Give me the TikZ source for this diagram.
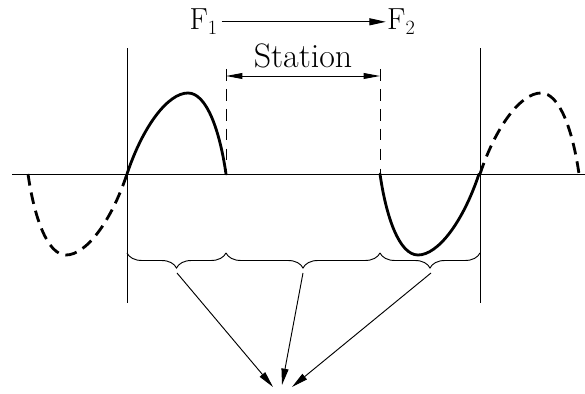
\documentclass[tikz,border=0pt]{standalone}
\usepackage{tikz}
\usetikzlibrary{arrows.meta,decorations.pathreplacing}

% one half-wave, from (0,0) to (99,0)
\newcommand{\humppath}{(0,0) .. controls (16,48) and (41,81) .. (61,81) .. controls (80,81) and (93,42) .. (99,0)}
\newcommand{\dippath}{(0,0) .. controls (6,-42) and (19,-81) .. (38,-81) .. controls (58,-81) and (83,-48) .. (99,0)}

\begin{document}
\begin{tikzpicture}[x=0.03cm, y=0.03cm,
  wave/.style={line width=2.4pt, line cap=round},
  ghost/.style={wave, line cap=butt, dash pattern=on 10pt off 6pt},
  guide/.style={line width=0.8pt, dash pattern=on 10pt off 7pt},
  thinline/.style={line width=0.8pt},
  tip/.style={-{Triangle[length=14pt,width=6pt]}, line width=0.8pt},
  label/.style={inner sep=0pt, font=\fontsize{26}{30}\selectfont}]

  \useasboundingbox (0,0) rectangle (585,394);

  % axis and limits
  \draw[thinline] (12,220) -- (585,220);
  \draw[thinline] (127,91) -- (127,346);
  \draw[thinline] (480,91) -- (480,346);

  % station boundaries
  \draw[guide] (226,325) -- (226,220);
  \draw[guide] (380,325) -- (380,220);

  % waves
  \draw[ghost, shift={(28,220)}] \dippath;
  \draw[wave,  shift={(127,220)}] \humppath;
  \draw[wave,  shift={(380,220)}] \dippath;
  \draw[ghost, shift={(480,220)}] \humppath;

  % direction
  \node[label, anchor=base east] (F1) at (218,364) {F$_1$};
  \node[label, anchor=base west] (F2) at (387,364) {F$_2$};
  \draw[tip, shorten <=3pt, shorten >=1pt] (F1.east) -- (F2.west);

  % station width
  \coordinate (sL) at (226,318);
  \coordinate (sR) at (380,318);
  \draw[{Triangle[length=14pt,width=5pt]}-{Triangle[length=14pt,width=5pt]}, thinline] (sL) -- (sR);
  \node[label, font=\fontsize{29}{32}\selectfont, anchor=base] (stn) at (303,326) {Station};

  % braces
  \draw[thinline, decorate, decoration={brace, mirror, amplitude=0.45cm}] (127,141) -- (226,141);
  \draw[thinline, decorate, decoration={brace, mirror, amplitude=0.45cm}] (226,141) -- (380,141);
  \draw[thinline, decorate, decoration={brace, mirror, amplitude=0.45cm}] (380,141) -- (480,141);

  \coordinate (b1) at (177,121);
  \coordinate (b2) at (303,121);
  \coordinate (b3) at (431,121);
  \coordinate (t1) at (273,7);
  \coordinate (t2) at (282,9);
  \coordinate (t3) at (292,7);

  \draw[tip] (b1) -- (t1);
  \draw[tip] (b2) -- (t2);
  \draw[tip] (b3) -- (t3);

\end{tikzpicture}
\end{document}
